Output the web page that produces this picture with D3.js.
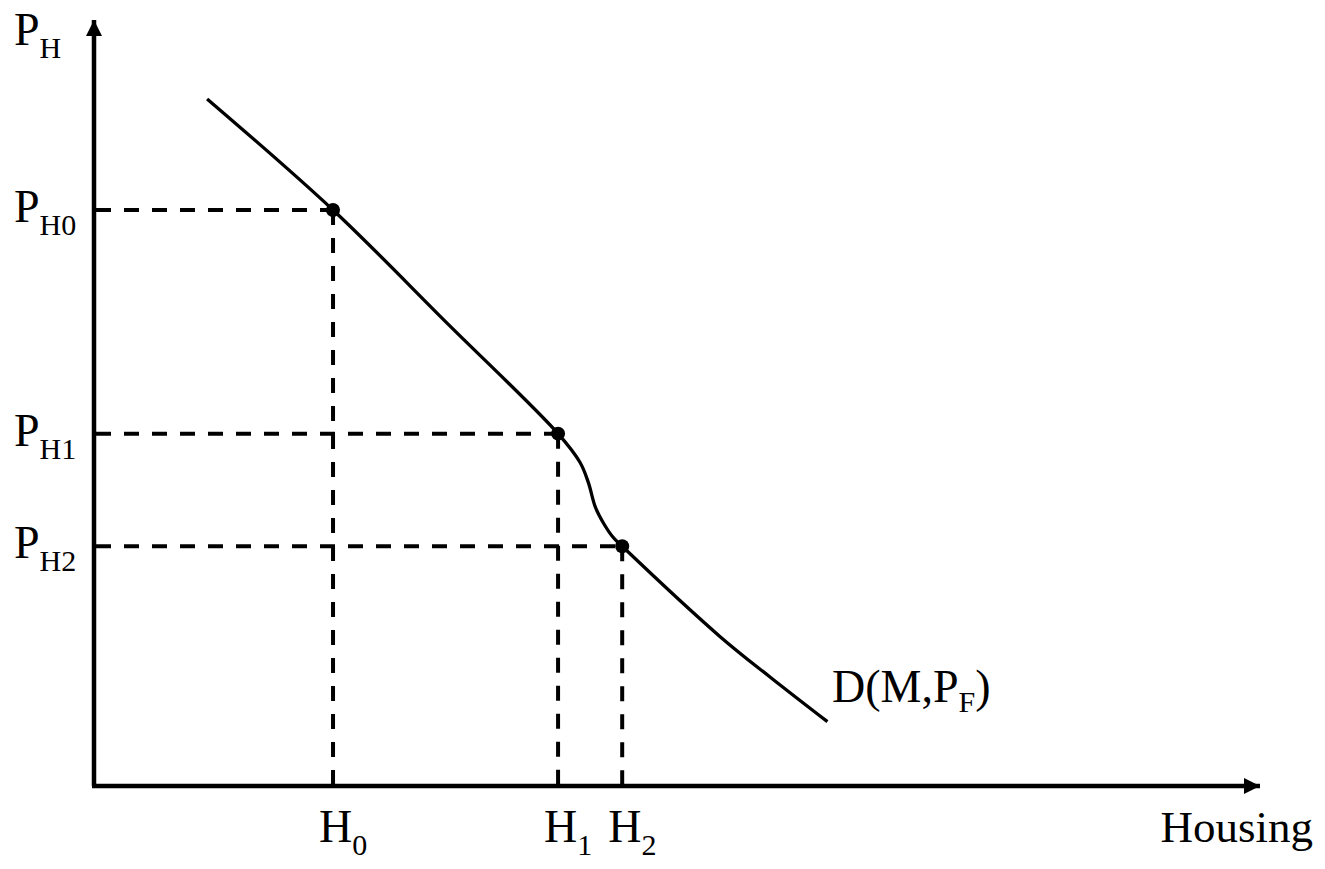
<!DOCTYPE html>
<html>
<head>
<meta charset="utf-8">
<script src="https://cdn.jsdelivr.net/npm/d3@7"></script>
<style>
  body { margin: 0; background: #fff; }
  text { font-family: "Liberation Serif", "Times New Roman", serif; fill: #000; }
</style>
</head>
<body>
<div class="chart"></div>
<script>
// Demand curve D(M,PF) (axis units 0-100)
const curveX = [9.7, 20.5, 30.3, 39.8, 41.7, 42.4, 43.0, 43.7, 44.5, 45.3, 53.7, 58.0, 62.9]
const curveY = [89.7, 75.2, 60.4, 46.0, 42.2, 39.6, 36.4, 34.3, 32.5, 31.3, 19.5, 14.2, 8.4]

// Marked equilibrium points
const pointLabels = ["0", "1", "2"]
const housingVals = [20.5, 39.8, 45.3]
const priceVals = [75.2, 46.0, 31.3]

const width = 1325
const height = 869

const svg = d3.select(".chart").append("svg")
    .attr("width", width)
    .attr("height", height)
    .attr("viewBox", [0, 0, width, height])

// Scales
const x = d3.scaleLinear().domain([0, 100]).range([94, 1260])
const y = d3.scaleLinear().domain([0, 100]).range([786, 20])

// Arrow markers
const defs = svg.append("defs")
defs.append("marker")
    .attr("id", "arrow")
    .attr("viewBox", "0 0 16 16")
    .attr("refX", 16)
    .attr("refY", 8)
    .attr("markerWidth", 16)
    .attr("markerHeight", 16)
    .attr("markerUnits", "userSpaceOnUse")
    .attr("orient", "auto")
  .append("path")
    .attr("d", "M0,0L16,8L0,16Z")
    .attr("fill", "#000")

// Axes
svg.append("line")
    .attr("x1", x(0)).attr("y1", y(0))
    .attr("x2", x(0)).attr("y2", y(100))
    .attr("stroke", "#000")
    .attr("stroke-width", 4.5)
    .attr("marker-end", "url(#arrow)")
svg.append("line")
    .attr("x1", x(0) - 2).attr("y1", y(0))
    .attr("x2", x(100)).attr("y2", y(0))
    .attr("stroke", "#000")
    .attr("stroke-width", 4.5)
    .attr("marker-end", "url(#arrow)")

// Dashed guides
const guides = svg.append("g")
    .attr("stroke", "#000")
    .attr("stroke-width", 4)
    .attr("stroke-dasharray", "15,13")
guides.selectAll("line.h")
    .data(priceVals)
    .join("line")
    .attr("class", "h")
    .attr("x1", x(0) + 2).attr("x2", (d, i) => x(housingVals[i]))
    .attr("y1", d => y(d)).attr("y2", d => y(d))
guides.selectAll("line.v")
    .data(housingVals)
    .join("line")
    .attr("class", "v")
    .attr("x1", d => x(d)).attr("x2", d => x(d))
    .attr("y1", (d, i) => y(priceVals[i])).attr("y2", y(0))

// Demand curve
const line = d3.line()
    .x(d => x(d[0]))
    .y(d => y(d[1]))
    .curve(d3.curveCatmullRom.alpha(0.5))
svg.append("path")
    .datum(d3.zip(curveX, curveY))
    .attr("d", line)
    .attr("fill", "none")
    .attr("stroke", "#000")
    .attr("stroke-width", 3.3)

// Dots
svg.selectAll("circle")
    .data(housingVals)
    .join("circle")
    .attr("cx", d => x(d))
    .attr("cy", (d, i) => y(priceVals[i]))
    .attr("r", 7)
    .attr("fill", "#000")

// Label helper: big letter plus subscript
function subLabel(tx, ty, main, sub, anchor) {
    const t = svg.append("text")
        .attr("x", tx).attr("y", ty)
        .attr("font-size", 46)
        .attr("text-anchor", anchor || "start")
    t.append("tspan").text(main)
    t.append("tspan").attr("font-size", 30).attr("dy", 13).text(sub)
    return t
}

// Price labels
subLabel(14, 45, "P", "H")
priceVals.forEach((d, i) => subLabel(14, y(d) + 12, "P", "H" + pointLabels[i]))

// Housing labels
housingVals.forEach((d, i) => subLabel(x(d) - 14, 842, "H", pointLabels[i]))

// Axis title
svg.append("text")
    .attr("x", 1313).attr("y", 842)
    .attr("font-size", 45)
    .attr("text-anchor", "end")
    .text("Housing")

// Curve label
const dl = svg.append("text")
    .attr("x", 832).attr("y", 702)
    .attr("font-size", 46)
dl.append("tspan").text("D(M,P")
dl.append("tspan").attr("font-size", 30).attr("dy", 10).text("F")
dl.append("tspan").attr("dy", -10).text(")")
</script>
</body>
</html>
